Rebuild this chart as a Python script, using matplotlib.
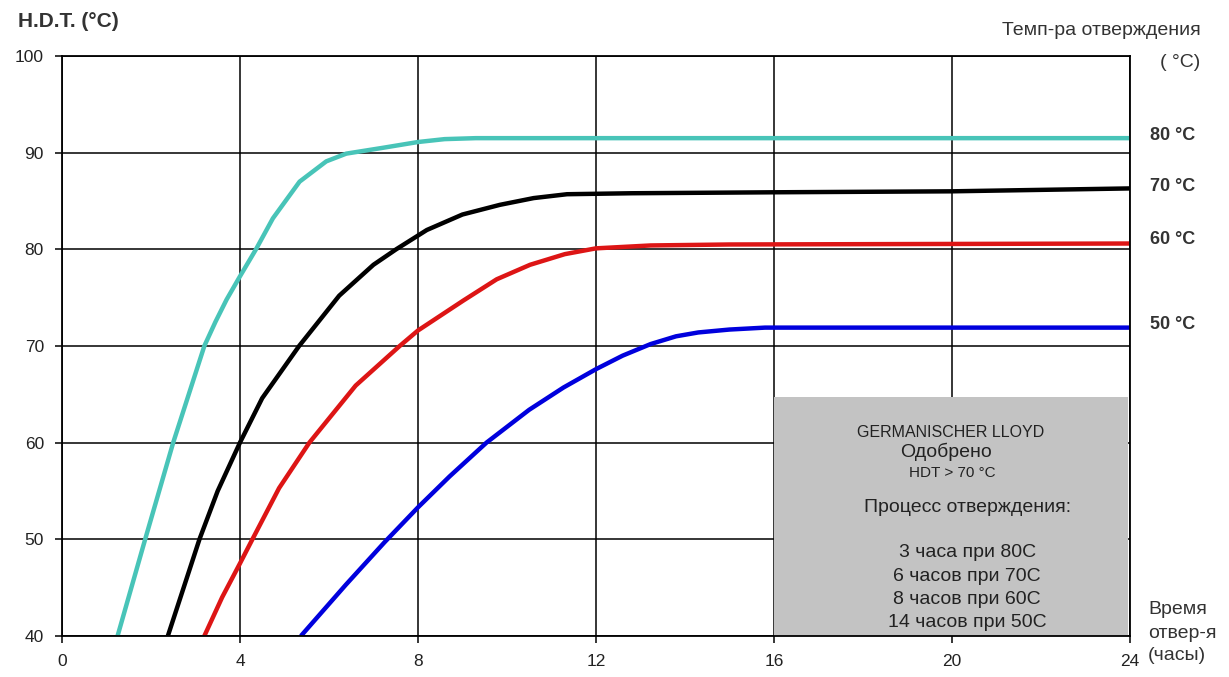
import matplotlib
matplotlib.use("Agg")
import matplotlib.pyplot as plt
from matplotlib.patches import Rectangle

plt.rcParams["font.family"] = ["Liberation Sans", "DejaVu Sans"]

# cure time (h) vs HDT (°C)
t_80 = [1.25, 1.87, 2.5, 3.2, 3.45, 3.7, 4.0, 4.36, 4.74, 5.34, 5.94, 6.39, 7.21, 8.0, 8.6, 9.3, 10.0, 16.0, 24.0]
hdt_80 = [40, 50, 60, 70, 72.5, 74.8, 77.2, 80.0, 83.2, 87.0, 89.1, 89.9, 90.5, 91.1, 91.4, 91.5, 91.5, 91.5, 91.5]

t_70 = [2.38, 3.09, 3.5, 4.0, 4.5, 5.33, 6.23, 7.0, 7.51, 8.2, 9.0, 9.84, 10.6, 11.35, 12.8, 16.0, 20.0, 24.0]
hdt_70 = [40, 50, 55, 60, 64.6, 70, 75.2, 78.4, 80.0, 82.0, 83.6, 84.6, 85.3, 85.7, 85.8, 85.9, 86.0, 86.3]

t_60 = [3.2, 3.6, 4.0, 4.28, 4.88, 5.56, 6.6, 7.59, 8.0, 9.02, 9.77, 10.52, 11.3, 12.0, 13.23, 15.0, 24.0]
hdt_60 = [40, 44.0, 47.5, 50, 55.3, 60, 65.9, 70, 71.6, 74.7, 76.9, 78.4, 79.5, 80.1, 80.4, 80.5, 80.6]

t_50 = [5.37, 6.38, 7.25, 8.0, 8.71, 9.54, 10.5, 11.27, 12.0, 12.6, 13.23, 13.8, 14.3, 15.0, 15.8, 24.0]
hdt_50 = [40, 45.3, 49.7, 53.3, 56.5, 60, 63.4, 65.7, 67.6, 69.0, 70.2, 71.0, 71.4, 71.7, 71.9, 71.9]

curve_labels = ["80 °C", "70 °C", "60 °C", "50 °C"]
curve_colors = ["#48c4b8", "#000000", "#dd1515", "#0000dd"]

x_ticks = [0, 4, 8, 12, 16, 20, 24]
y_ticks = [40, 50, 60, 70, 80, 90, 100]

box_head = ["GERMANISCHER LLOYD", "Одобрено", "HDT > 70 °C"]
box_process = ["Процесс отверждения:", "3 часа при 80С", "6 часов при 70С",
               "8 часов при 60С", "14 часов при 50С"]

fig = plt.figure(figsize=(12.29, 6.77), dpi=100)
ax = fig.add_axes([0.0504, 0.0606, 0.869, 0.8567])

series = [(t_80, hdt_80), (t_70, hdt_70), (t_60, hdt_60), (t_50, hdt_50)]
for (tx, hy), col in zip(series, curve_colors):
    ax.plot(tx, hy, color=col, lw=3.2, solid_capstyle="butt",
            solid_joinstyle="round", zorder=2)

ax.set_xlim(0, 24)
ax.set_ylim(40, 100)
ax.set_xticks(x_ticks)
ax.set_yticks(y_ticks)
ax.grid(True, color="black", lw=1.1, zorder=1)
ax.set_axisbelow(True)
for sp in ax.spines.values():
    sp.set_linewidth(1.3)
    sp.set_zorder(4)
ax.tick_params(direction="out", length=5, width=1.1, labelsize=12.5, pad=8,
               labelcolor="#222222")

# grey certification box
ax.add_patch(Rectangle((16, 40), 7.95, 24.75, facecolor="#c3c3c3", edgecolor="none",
                       zorder=3))
for txt, xv, yv, fs in zip(box_head, [19.98, 19.87, 20.0], [61.1, 59.0, 56.9],
                           [11.5, 14, 11]):
    ax.text(xv, yv, txt, fontsize=fs, ha="center", va="center", color="#222222",
            zorder=5)
for txt, yv in zip(box_process, [53.3, 48.65, 46.2, 43.8, 41.4]):
    ax.text(20.34, yv, txt, fontsize=14, ha="center", va="center", color="#222222",
            zorder=5)

# curve labels on the right
for lbl, yv in zip(curve_labels, [91.8, 86.5, 81.0, 72.2]):
    ax.text(1.019, (yv - 40) / 60, lbl, transform=ax.transAxes, fontsize=13,
            fontweight="bold", color="#333333", ha="left", va="center")

fig.text(0.015, 0.968, "H.D.T. (°C)", fontsize=15, fontweight="bold", color="#333333",
         ha="left", va="center")
fig.text(0.977, 0.955, "Темп-ра отверждения", fontsize=14, color="#333333",
         ha="right", va="center")
fig.text(0.977, 0.908, "( °C)", fontsize=14, color="#333333", ha="right", va="center")
for txt, py in zip(["Время", "отвер-я", "(часы)"], [609, 633, 655]):
    fig.text(0.934, 1 - py / 677, txt, fontsize=14, color="#333333", ha="left",
             va="center")

fig.savefig("out.png", dpi=100)
